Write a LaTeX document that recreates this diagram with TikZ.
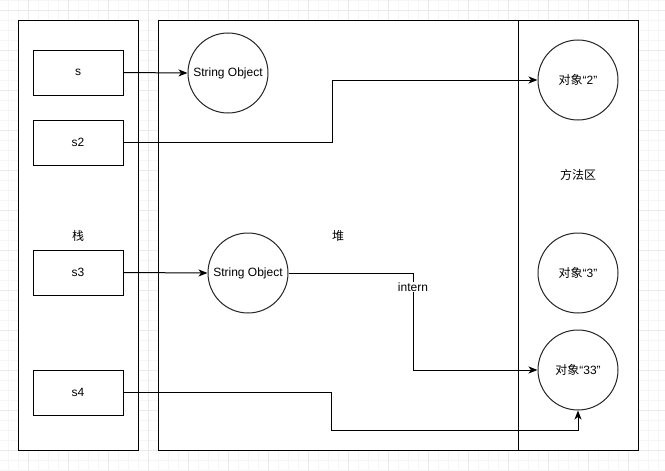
\documentclass[tikz,border=0pt]{standalone}
\usepackage{fontspec}
\setmainfont{Liberation Sans}
\newfontfamily\cjk{Noto Sans CJK SC}
\usetikzlibrary{arrows.meta}
\begin{document}
\begin{tikzpicture}[x=1pt,y=-1pt,
  every node/.style={font=\fontsize{12}{14}\selectfont, text=black},
  container/.style={draw=black, line width=1pt, fill=white},
  varbox/.style={draw=black, line width=1pt, fill=white, minimum width=90pt, minimum height=45pt, inner sep=0pt},
  obj/.style={draw=black!85, line width=1pt, fill=white, circle, minimum size=80pt, inner sep=0pt},
  arr/.style={draw=black, line width=1pt, -{Stealth[length=9pt,width=7pt,inset=2.5pt]}},
  lbl/.style={inner sep=1pt}
]
\useasboundingbox (0,0) rectangle (665,471);
\fill[white] (0,0) rectangle (665,471);
% background grid
\foreach \x in {8,18,...,658} \draw[color={rgb,255:red,246;green,246;blue,246}, line width=0.8pt] (\x,0) -- (\x,471);
\foreach \y in {0,10,...,470} \draw[color={rgb,255:red,246;green,246;blue,246}, line width=0.8pt] (0,\y) -- (665,\y);
\foreach \x in {28,68,...,658} \draw[color={rgb,255:red,234;green,234;blue,234}, line width=0.8pt] (\x,0) -- (\x,471);
\foreach \y in {10,50,...,470} \draw[color={rgb,255:red,234;green,234;blue,234}, line width=0.8pt] (0,\y) -- (665,\y);

% containers
\node[container, minimum width=120pt, minimum height=430pt, anchor=north west, inner sep=0pt] (stack) at (18,20) {};
\node[container, minimum width=360pt, minimum height=430pt, anchor=north west, inner sep=0pt] (heap) at (158,20) {};
\node[container, minimum width=120pt, minimum height=430pt, anchor=north west, inner sep=0pt] (method) at (518,20) {};

\node (stacklbl) at (78,236) {\cjk 栈};
\node (heaplbl) at (338,236) {\cjk 堆};
\node (methodlbl) at (578,175) {\cjk 方法区};

% stack variables
\node[varbox] (s) at (78,72.5) {s};
\node[varbox] (s2) at (78,142.5) {s2};
\node[varbox] (s3) at (78,272.5) {s3};
\node[varbox] (s4) at (78,392.5) {s4};

% heap objects
\node[obj] (so1) at (228,73) {String Object};
\node[obj] (so2) at (248,273) {String Object};

% method area objects
\node[obj] (o2) at (578,80) {{\cjk 对象}“2”};
\node[obj] (o3) at (578,273) {{\cjk 对象}“3”};
\node[obj] (o33) at (578,370) {{\cjk 对象}“33”};

% connectors
\coordinate (b1) at (332,142.5);
\coordinate (b2) at (413,273);
\coordinate (b3) at (331,392.5);
\coordinate (b4) at (331,430);

\draw[arr] (s.east) -- (so1.west);
\draw[arr] (s2.east) -- (b1) |- (o2.west);
\draw[arr] (s3.east) -- (so2.west);
\draw[arr] (so2.east) -- (b2) |- (o33.west);
\node[lbl, fill=white] (intern) at (413,287) {intern};
\draw[arr] (s4.east) -- (b3) -- (b4) -| (o33.south);
\end{tikzpicture}
\end{document}
